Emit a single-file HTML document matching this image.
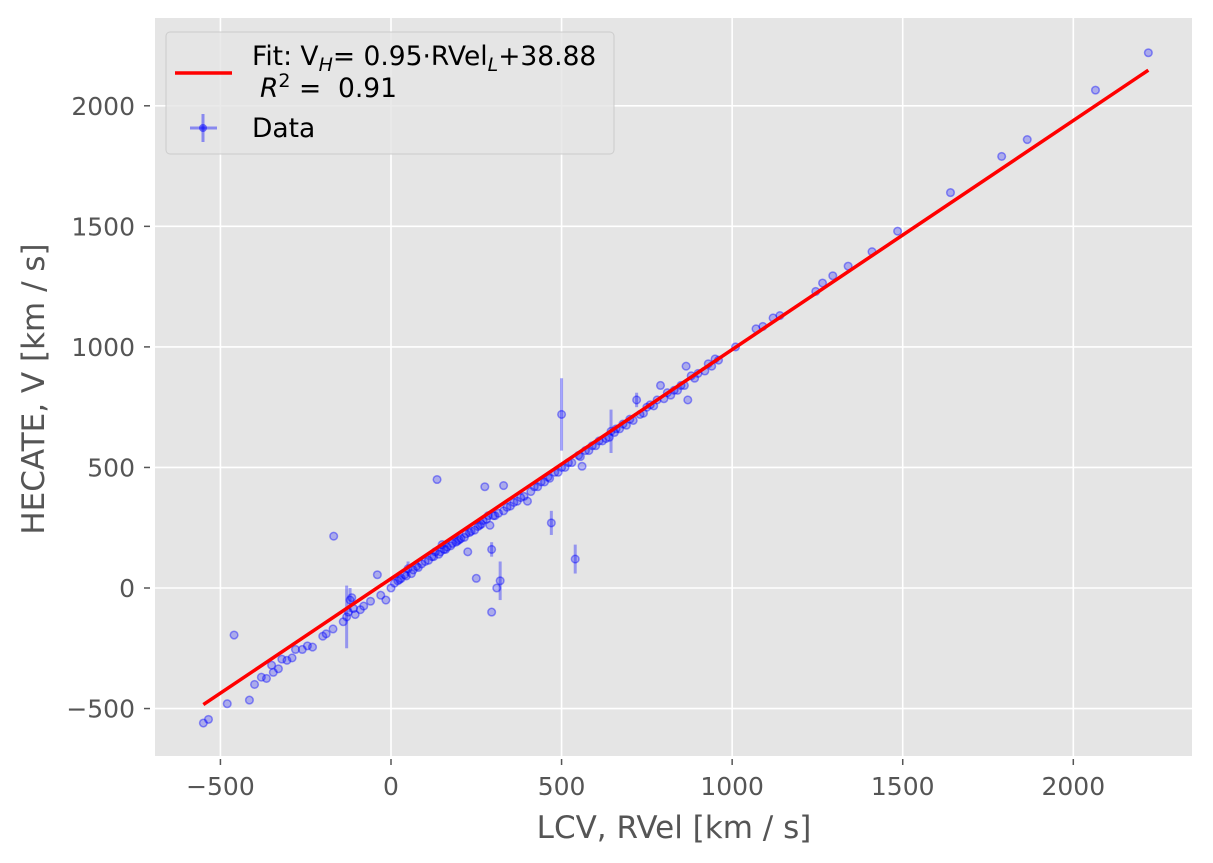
<!DOCTYPE html>
<html><head><meta charset="utf-8"><style>
html,body{margin:0;padding:0;background:#fff}
svg{display:block}
text{font-family:"DejaVu Sans","Liberation Sans",sans-serif}
</style></head><body>
<svg id="chart" width="1213" height="863">
<rect x="155" y="18" width="1037" height="738" fill="#e5e5e5"/>
<g id="grid"></g><g id="pts"></g><g id="fit"></g><g id="axes"></g>
<g>
<rect x="166" y="32" width="448" height="122" rx="4" fill="#e5e5e5" fill-opacity="0.8" stroke="#ccc"/>
<line x1="175" y1="73" x2="232" y2="73" stroke="red" stroke-width="3.5"/>
<text x="252" y="65" font-size="26.5" fill="#000">Fit: V<tspan font-size="19" font-style="italic" dy="6">H</tspan><tspan dy="-6">= 0.95·RVel</tspan><tspan font-size="19" font-style="italic" dy="6">L</tspan><tspan dy="-6">+38.88</tspan></text>
<text x="260" y="97" font-size="26.5" fill="#000"><tspan font-style="italic">R</tspan><tspan font-size="19" dy="-10">2</tspan><tspan dy="10" xml:space="preserve"> =  0.91</tspan></text>
<g>
<line x1="190" y1="128" x2="217" y2="128" stroke="blue" stroke-opacity="0.4" stroke-width="3"/>
<line x1="203" y1="114" x2="203" y2="142" stroke="blue" stroke-opacity="0.4" stroke-width="3"/>
<circle cx="203" cy="128" r="4" fill="blue" fill-opacity="0.5"/></g>
<text x="252" y="137" font-size="26.5" fill="#000">Data</text>
</g>
<text x="674" y="838" font-size="31" fill="#555" text-anchor="middle">LCV, RVel [km / s]</text>
<text transform="translate(44,389) rotate(-90)" font-size="31" fill="#555" text-anchor="middle">HECATE, V [km / s]</text>
</svg>
<script>
const xTicks=[-500,0,500,1000,1500,2000];
const yTicks=[-500,0,500,1000,1500,2000];
const xTickLabels=["−500","0","500","1000","1500","2000"];
const yTickLabels=["−500","0","500","1000","1500","2000"];
const ptX=[-550,-535,-480,-460,-415,-400,-380,-365,-345,-330,-305,-290,-260,-245,-230,-200,-190,-170,-168,-140,-130,-120,-115,-105,-90,-80,-60,-40,-30,-15,0,20,30,45,50,60,75,90,100,120,130,135,140,150,160,175,190,200,215,225,230,245,250,260,270,275,285,290,295,295,300,310,320,330,330,350,370,390,400,420,440,460,470,480,500,500,520,540,550,560,570,590,610,630,645,660,680,700,720,730,750,760,780,790,810,830,850,865,870,880,900,930,950,1010,1070,1090,1120,1140,1245,1265,1295,1340,1410,1485,1640,1790,1865,2065,2220,
-125,-110,10,25,40,65,80,110,125,145,155,165,180,195,205,220,235,255,265,280,305,315,340,360,380,410,430,450,465,490,510,530,555,580,600,620,640,655,670,690,710,740,770,800,820,840,860,890,920,940,960,-350,-320,-280];
const ptY=[-560,-545,-480,-195,-465,-400,-370,-375,-350,-335,-300,-290,-255,-240,-245,-200,-190,-170,215,-140,-120,-50,-40,-110,-90,-75,-55,55,-30,-50,0,30,40,50,80,60,90,100,110,130,150,450,140,180,160,175,190,200,210,150,230,240,40,260,280,420,300,260,-100,160,300,0,30,425,320,340,360,380,360,420,440,460,270,480,720,500,520,120,550,505,570,590,610,620,650,660,680,700,780,720,750,760,780,840,810,820,840,920,780,880,890,930,950,1000,1075,1085,1120,1130,1230,1265,1295,1335,1395,1480,1640,1790,1860,2065,2220,
-100,-85,20,35,55,75,85,115,130,150,160,170,185,195,205,225,235,255,265,285,300,310,335,355,375,400,420,440,455,480,500,520,545,570,590,610,625,645,660,675,695,725,755,785,800,820,840,870,900,920,945,-320,-295,-255];
const ptErr=[0,0,0,0,0,0,0,0,0,0,0,0,0,0,0,0,0,0,0,0,130,50,0,0,0,0,0,0,0,0,0,0,0,0,30,0,0,0,0,0,0,0,0,0,0,0,0,0,0,0,0,0,0,0,0,0,0,0,0,30,0,0,80,0,0,0,0,0,0,0,0,0,50,0,150,0,0,60,0,0,0,0,0,0,90,0,0,0,30,0,0,0,0,0,0,0,0,0,0,0,0,0,0,0,0,0,0,0,0,0,0,0,0,0,0,0,0,0,0,
0,0,0,0,0,0,0,0,0,0,0,0,0,0,0,0,0,0,0,0,0,0,0,0,0,0,0,0,0,0,0,0,0,0,0,0,0,0,0,0,0,0,0,0,0,0,0,0,0,0,0,0,0,0];
const fitSlope=0.95, fitIntercept=38.88, fitRange=[-550,2220];
const X=v=>391+v*0.34115, Y=v=>588-v*0.2411;
const NS="http://www.w3.org/2000/svg";
function mk(p,t,a){const e=document.createElementNS(NS,t);for(const k in a)e.setAttribute(k,a[k]);p.appendChild(e);return e;}
const grid=document.getElementById('grid'),axes=document.getElementById('axes');
xTicks.forEach((t,i)=>{const g=mk(grid,'line',{x1:X(t),x2:X(t),y1:18,y2:756,stroke:'#fff','stroke-width':1.6});


const tk=mk(axes,'line',{x1:X(t),x2:X(t),y1:759,y2:765,stroke:'#555','stroke-width':1.5});


const l=mk(axes,'text',{x:X(t),y:795,'font-size':25,fill:'#555','text-anchor':'middle'});l.textContent=xTickLabels[i];

});
yTicks.forEach((t,i)=>{const g=mk(grid,'line',{x1:155,x2:1192,y1:Y(t),y2:Y(t),stroke:'#fff','stroke-width':1.6});


const tk=mk(axes,'line',{x1:144,x2:150,y1:Y(t),y2:Y(t),stroke:'#555','stroke-width':1.5});


const l=mk(axes,'text',{x:135,y:Y(t)+9,'font-size':25,fill:'#555','text-anchor':'end'});l.textContent=yTickLabels[i];

});
const pts=document.getElementById('pts');
ptX.forEach((x,i)=>{const y=ptY[i],e=ptErr[i];
if(e>0){const b=mk(pts,'line',{x1:X(x),x2:X(x),y1:Y(y-e),y2:Y(y+e),stroke:'blue','stroke-opacity':0.35,'stroke-width':3});

}
const c=mk(pts,'circle',{cx:X(x),cy:Y(y),r:3.8,fill:'blue','fill-opacity':0.25,stroke:'blue','stroke-opacity':0.4,'stroke-width':1.5});

});
const f=mk(document.getElementById('fit'),'line',{x1:X(fitRange[0]),y1:Y(fitSlope*fitRange[0]+fitIntercept),x2:X(fitRange[1]),y2:Y(fitSlope*fitRange[1]+fitIntercept),stroke:'red','stroke-width':3.5});


</script>
</body></html>
